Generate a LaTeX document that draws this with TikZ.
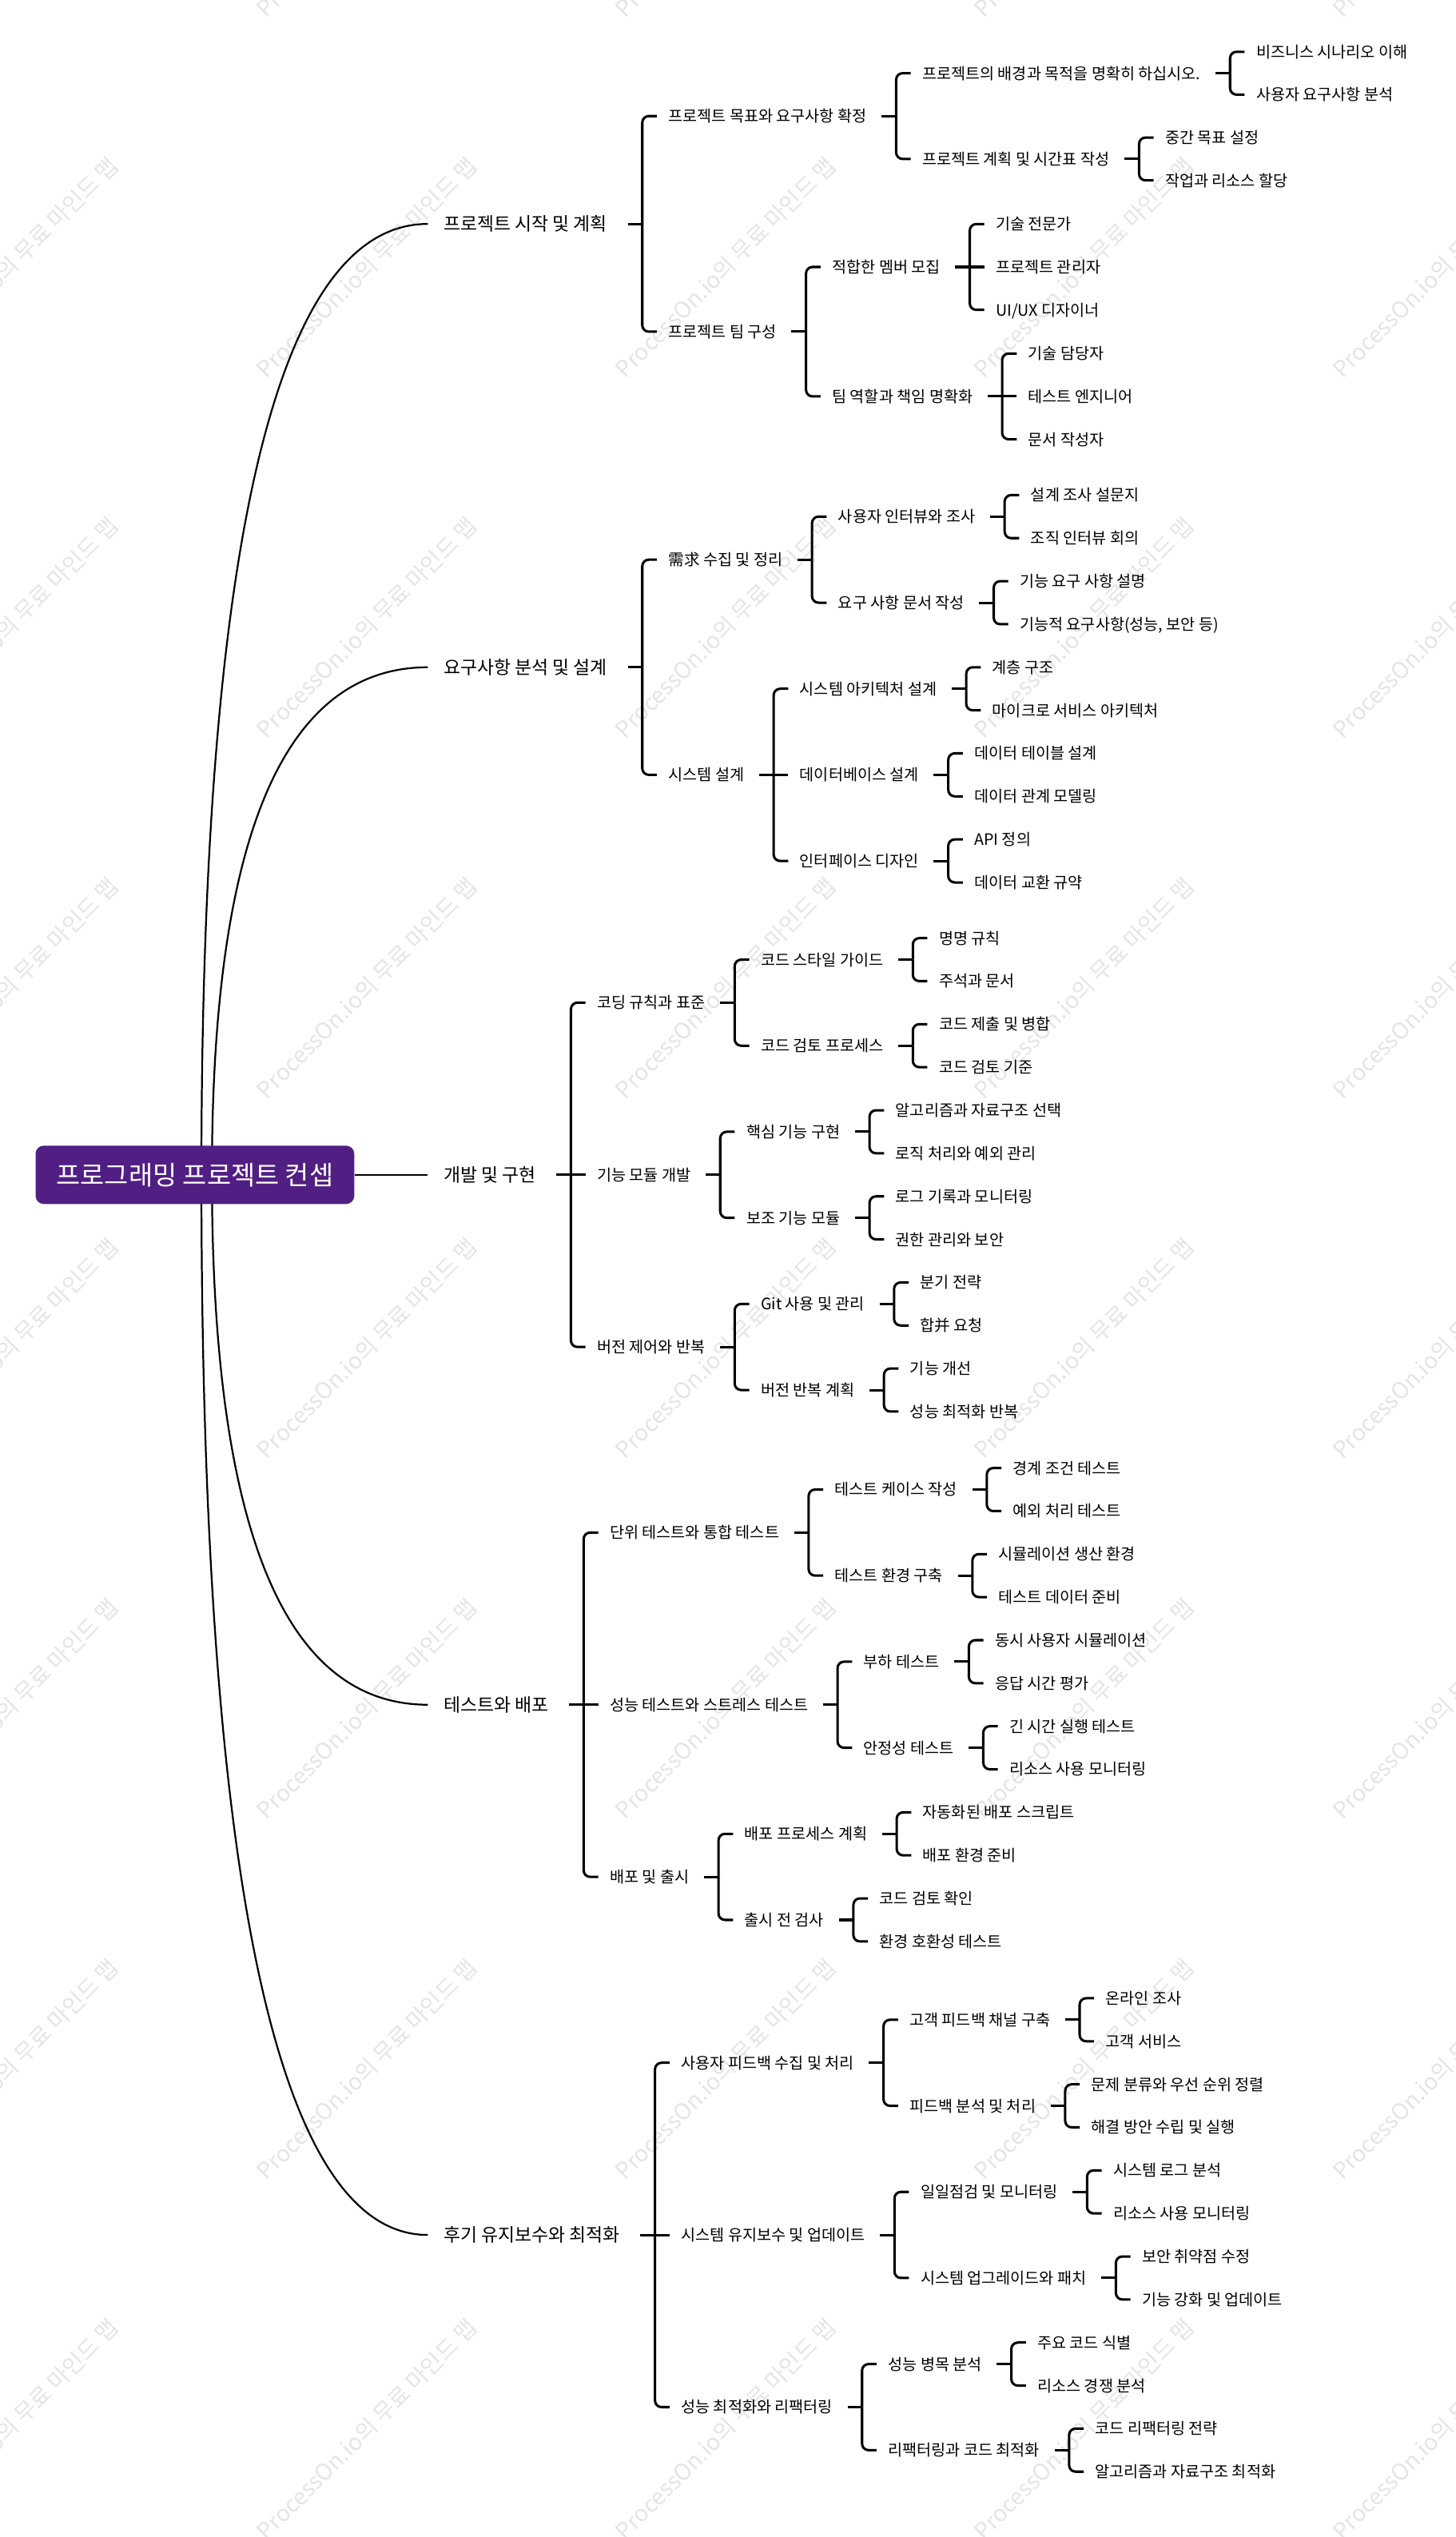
\documentclass[tikz,border=0pt]{standalone}
\usepackage{fontspec}
\setmainfont{Noto Sans CJK KR}
\usetikzlibrary{calc}
\definecolor{rootpurple}{RGB}{81,31,131}
\newcommand{\mmA}[4]{\node[t9] (#1) at ($(#2.east |- 0,#3)+(37.5,0)$) {#4};}
\newcommand{\mmN}[4]{\node[t9] (#1) at ($(#2.east |- 0,#3)+(34,0)$) {#4};}
\newcommand{\mmBrA}[3]{%
  \draw[brk] ($(#1.east)+(12.5,0)$) -- ++(9,0);
  \draw[brk,rounded corners=4pt] ($(#1.east)+(21.5,0)$) |- ($(#2.west)+(-7,0)$);
  \draw[brk,rounded corners=4pt] ($(#1.east)+(21.5,0)$) |- ($(#3.west)+(-7,0)$);}
\newcommand{\mmBr}[3]{%
  \draw[brk] ($(#1.east)+(9,0)$) -- ++(9,0);
  \draw[brk,rounded corners=4pt] ($(#1.east)+(18,0)$) |- ($(#2.west)+(-7,0)$);
  \draw[brk,rounded corners=4pt] ($(#1.east)+(18,0)$) |- ($(#3.west)+(-7,0)$);}
\newcommand{\mmMidA}[2]{\draw[brk] ($(#1.east)+(21.5,0)$) -- ($(#2.west)+(-7,0)$);}
\newcommand{\mmMid}[2]{\draw[brk] ($(#1.east)+(18,0)$) -- ($(#2.west)+(-7,0)$);}
\begin{document}
\begin{tikzpicture}[x=1pt,y=-1pt,
  t9/.style={anchor=west, inner sep=0pt, font=\fontsize{9.7}{12}\selectfont, text height=8.15pt, text depth=0.78pt},
  t1/.style={anchor=west, inner sep=0pt, font=\fontsize{11.3}{14}\selectfont, text height=9.5pt, text depth=0.9pt},
  brk/.style={line width=1.5pt, black},
  curve/.style={line width=1.1pt, black},
  wm/.style={anchor=base west, rotate=45, inner sep=0pt, text=black!10, font=\fontsize{14}{16}\selectfont}]
\useasboundingbox (0,0) rectangle (900,1568);
\fill[white] (0,0) rectangle (900,1568);
% watermarks
\begin{scope}
\clip (0,0) rectangle (900,1568);
\foreach \i in {-1,...,3}{\foreach \j in {0,...,7}{
  \node[wm] (wm\i\j) at ({164.8+221.7*\i},{11.8+222.7*\j}) {ProcessOn.io의 무료 마인드 맵};}}
\end{scope}
% level 1
\node[t1] (L1a) at (274,138.4) {프로젝트 시작 및 계획};
\node[t1] (L1b) at (274,412.4) {요구사항 분석 및 설계};
\node[t1] (L1c) at (274,726.1) {개발 및 구현};
\node[t1] (L1d) at (274,1053.6) {테스트와 배포};
\node[t1] (L1e) at (274,1381.3) {후기 유지보수와 최적화};
% curves from root
\draw[curve] (124.5,726.1) .. controls (124.5,334.3) and (171.2,138.4) .. ($(L1a.west)+(-9.5,0)$);
\draw[curve] (131,726.1) .. controls (131,517.0) and (175.5,412.4) .. ($(L1b.west)+(-9.5,0)$);
\draw[curve] (131,726.1) .. controls (131,944.4) and (175.5,1053.6) .. ($(L1d.west)+(-9.5,0)$);
\draw[curve] (124.5,726.1) .. controls (124.5,1162.9) and (171.2,1381.3) .. ($(L1e.west)+(-9.5,0)$);
% root
\node[fill=rootpurple, rounded corners=5pt, minimum width=197pt, minimum height=36pt, inner sep=0pt, text=white, font=\fontsize{16.2}{19}\selectfont, text height=13.6pt, text depth=1.3pt] (root) at (120.5,726.1) {프로그래밍 프로젝트 컨셉};
\draw[curve] (root.east) -- ($(L1c.west)+(-9.5,0)$);

% ===== Branch 1
\mmA{A1}{L1a}{71.75}{프로젝트 목표와 요구사항 확정}
\mmA{A2}{L1a}{205}{프로젝트 팀 구성}
\mmBrA{L1a}{A1}{A2}
\mmN{A11}{A1}{45.25}{프로젝트의 배경과 목적을 명확히 하십시오.}
\mmN{A12}{A1}{98.25}{프로젝트 계획 및 시간표 작성}
\mmBr{A1}{A11}{A12}
\mmN{A111}{A11}{32}{비즈니스 시나리오 이해}
\mmN{A112}{A11}{58.5}{사용자 요구사항 분석}
\mmBr{A11}{A111}{A112}
\mmN{A121}{A12}{85}{중간 목표 설정}
\mmN{A122}{A12}{111.5}{작업과 리소스 할당}
\mmBr{A12}{A121}{A122}
\mmN{A21}{A2}{165}{적합한 멤버 모집}
\mmN{A22}{A2}{245}{팀 역할과 책임 명확화}
\mmBr{A2}{A21}{A22}
\mmN{A211}{A21}{138.5}{기술 전문가}
\mmN{A212}{A21}{165}{프로젝트 관리자}
\mmN{A213}{A21}{191.5}{UI/UX 디자이너}
\mmBr{A21}{A211}{A213}
\mmMid{A21}{A212}
\mmN{A221}{A22}{218.5}{기술 담당자}
\mmN{A222}{A22}{245}{테스트 엔지니어}
\mmN{A223}{A22}{271.5}{문서 작성자}
\mmBr{A22}{A221}{A223}
\mmMid{A22}{A222}

% ===== Branch 2
\mmA{B1}{L1b}{345.9}{需求 수집 및 정리}
\mmA{B2}{L1b}{478.9}{시스템 설계}
\mmBrA{L1b}{B1}{B2}
\mmN{B11}{B1}{319.3}{사용자 인터뷰와 조사}
\mmN{B12}{B1}{372.5}{요구 사항 문서 작성}
\mmBr{B1}{B11}{B12}
\mmN{B111}{B11}{306}{설계 조사 설문지}
\mmN{B112}{B11}{332.6}{조직 인터뷰 회의}
\mmBr{B11}{B111}{B112}
\mmN{B121}{B12}{359.2}{기능 요구 사항 설명}
\mmN{B122}{B12}{385.8}{기능적 요구사항(성능, 보안 등)}
\mmBr{B12}{B121}{B122}
\mmN{B21}{B2}{425.7}{시스템 아키텍처 설계}
\mmN{B22}{B2}{478.9}{데이터베이스 설계}
\mmN{B23}{B2}{532.1}{인터페이스 디자인}
\mmBr{B2}{B21}{B23}
\mmMid{B2}{B22}
\mmN{B211}{B21}{412.4}{계층 구조}
\mmN{B212}{B21}{439}{마이크로 서비스 아키텍처}
\mmBr{B21}{B211}{B212}
\mmN{B221}{B22}{465.6}{데이터 테이블 설계}
\mmN{B222}{B22}{492.2}{데이터 관계 모델링}
\mmBr{B22}{B221}{B222}
\mmN{B231}{B23}{518.8}{API 정의}
\mmN{B232}{B23}{545.4}{데이터 교환 규약}
\mmBr{B23}{B231}{B232}

% ===== Branch 3
\mmA{C1}{L1c}{619.7}{코딩 규칙과 표준}
\mmA{C2}{L1c}{726.1}{기능 모듈 개발}
\mmA{C3}{L1c}{832.5}{버전 제어와 반복}
\mmBrA{L1c}{C1}{C3}
\mmMidA{L1c}{C2}
\mmN{C11}{C1}{593.1}{코드 스타일 가이드}
\mmN{C12}{C1}{646.3}{코드 검토 프로세스}
\mmBr{C1}{C11}{C12}
\mmN{C111}{C11}{579.8}{명명 규칙}
\mmN{C112}{C11}{606.4}{주석과 문서}
\mmBr{C11}{C111}{C112}
\mmN{C121}{C12}{633}{코드 제출 및 병합}
\mmN{C122}{C12}{659.6}{코드 검토 기준}
\mmBr{C12}{C121}{C122}
\mmN{C21}{C2}{699.5}{핵심 기능 구현}
\mmN{C22}{C2}{752.7}{보조 기능 모듈}
\mmBr{C2}{C21}{C22}
\mmN{C211}{C21}{686.2}{알고리즘과 자료구조 선택}
\mmN{C212}{C21}{712.8}{로직 처리와 예외 관리}
\mmBr{C21}{C211}{C212}
\mmN{C221}{C22}{739.4}{로그 기록과 모니터링}
\mmN{C222}{C22}{766}{권한 관리와 보안}
\mmBr{C22}{C221}{C222}
\mmN{C31}{C3}{805.9}{Git 사용 및 관리}
\mmN{C32}{C3}{859.1}{버전 반복 계획}
\mmBr{C3}{C31}{C32}
\mmN{C311}{C31}{792.6}{분기 전략}
\mmN{C312}{C31}{819.2}{합并 요청}
\mmBr{C31}{C311}{C312}
\mmN{C321}{C32}{845.8}{기능 개선}
\mmN{C322}{C32}{872.4}{성능 최적화 반복}
\mmBr{C32}{C321}{C322}

% ===== Branch 4
\mmA{D1}{L1d}{947.2}{단위 테스트와 통합 테스트}
\mmA{D2}{L1d}{1053.6}{성능 테스트와 스트레스 테스트}
\mmA{D3}{L1d}{1160}{배포 및 출시}
\mmBrA{L1d}{D1}{D3}
\mmMidA{L1d}{D2}
\mmN{D11}{D1}{920.6}{테스트 케이스 작성}
\mmN{D12}{D1}{973.8}{테스트 환경 구축}
\mmBr{D1}{D11}{D12}
\mmN{D111}{D11}{907.3}{경계 조건 테스트}
\mmN{D112}{D11}{933.9}{예외 처리 테스트}
\mmBr{D11}{D111}{D112}
\mmN{D121}{D12}{960.5}{시뮬레이션 생산 환경}
\mmN{D122}{D12}{987.1}{테스트 데이터 준비}
\mmBr{D12}{D121}{D122}
\mmN{D21}{D2}{1027}{부하 테스트}
\mmN{D22}{D2}{1080.2}{안정성 테스트}
\mmBr{D2}{D21}{D22}
\mmN{D211}{D21}{1013.7}{동시 사용자 시뮬레이션}
\mmN{D212}{D21}{1040.3}{응답 시간 평가}
\mmBr{D21}{D211}{D212}
\mmN{D221}{D22}{1066.9}{긴 시간 실행 테스트}
\mmN{D222}{D22}{1093.5}{리소스 사용 모니터링}
\mmBr{D22}{D221}{D222}
\mmN{D31}{D3}{1133.4}{배포 프로세스 계획}
\mmN{D32}{D3}{1186.6}{출시 전 검사}
\mmBr{D3}{D31}{D32}
\mmN{D311}{D31}{1120.1}{자동화된 배포 스크립트}
\mmN{D312}{D31}{1146.7}{배포 환경 준비}
\mmBr{D31}{D311}{D312}
\mmN{D321}{D32}{1173.3}{코드 검토 확인}
\mmN{D322}{D32}{1199.9}{환경 호환성 테스트}
\mmBr{D32}{D321}{D322}

% ===== Branch 5
\mmA{E1}{L1e}{1274.9}{사용자 피드백 수집 및 처리}
\mmA{E2}{L1e}{1381.3}{시스템 유지보수 및 업데이트}
\mmA{E3}{L1e}{1487.7}{성능 최적화와 리팩터링}
\mmBrA{L1e}{E1}{E3}
\mmMidA{L1e}{E2}
\mmN{E11}{E1}{1248.3}{고객 피드백 채널 구축}
\mmN{E12}{E1}{1301.5}{피드백 분석 및 처리}
\mmBr{E1}{E11}{E12}
\mmN{E111}{E11}{1235}{온라인 조사}
\mmN{E112}{E11}{1261.6}{고객 서비스}
\mmBr{E11}{E111}{E112}
\mmN{E121}{E12}{1288.2}{문제 분류와 우선 순위 정렬}
\mmN{E122}{E12}{1314.8}{해결 방안 수립 및 실행}
\mmBr{E12}{E121}{E122}
\mmN{E21}{E2}{1354.7}{일일점검 및 모니터링}
\mmN{E22}{E2}{1407.9}{시스템 업그레이드와 패치}
\mmBr{E2}{E21}{E22}
\mmN{E211}{E21}{1341.4}{시스템 로그 분석}
\mmN{E212}{E21}{1368}{리소스 사용 모니터링}
\mmBr{E21}{E211}{E212}
\mmN{E221}{E22}{1394.6}{보안 취약점 수정}
\mmN{E222}{E22}{1421.2}{기능 강화 및 업데이트}
\mmBr{E22}{E221}{E222}
\mmN{E31}{E3}{1461.1}{성능 병목 분석}
\mmN{E32}{E3}{1514.3}{리팩터링과 코드 최적화}
\mmBr{E3}{E31}{E32}
\mmN{E311}{E31}{1447.8}{주요 코드 식별}
\mmN{E312}{E31}{1474.4}{리소스 경쟁 분석}
\mmBr{E31}{E311}{E312}
\mmN{E321}{E32}{1501}{코드 리팩터링 전략}
\mmN{E322}{E32}{1527.6}{알고리즘과 자료구조 최적화}
\mmBr{E32}{E321}{E322}
\end{tikzpicture}
\end{document}
